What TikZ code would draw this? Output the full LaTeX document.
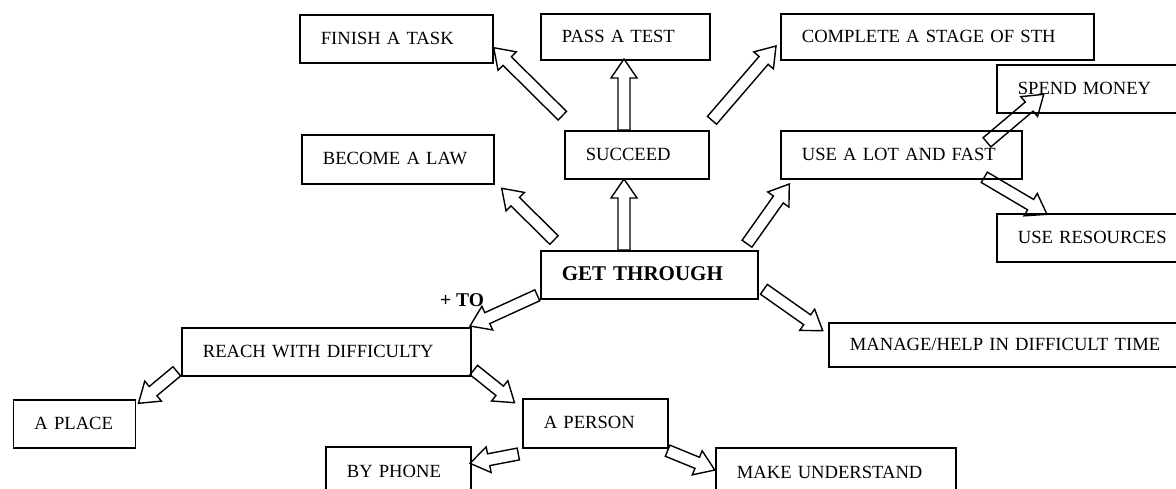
\documentclass[tikz,border=0pt]{standalone}
\usepackage{fontspec}
\setmainfont{Liberation Serif}
\usetikzlibrary{calc,backgrounds}
\newcommand{\arrSW}{6pt}
\newcommand{\arrHW}{13pt}
\newcommand{\arrHL}{19pt}
\newcommand{\blockarr}[2]{%
  \coordinate (bac) at ($(#2)!\arrHL!(#1)$);
  \draw[blockarrow] ($(#1)!\arrSW!90:(#2)$) -- ($(bac)!\arrSW!90:(#2)$) -- ($(bac)!\arrHW!90:(#2)$) -- (#2) -- ($(bac)!\arrHW!-90:(#2)$) -- ($(bac)!\arrSW!-90:(#2)$) -- ($(#1)!\arrSW!-90:(#2)$) -- cycle;}
\begin{document}
\begin{tikzpicture}[x=1pt,y=-1pt,
  box/.style={draw, line width=1.7pt, inner xsep=21pt, inner ysep=0pt, align=left, anchor=north west,
    font=\fontsize{18.6}{22}\selectfont, text height=12.3pt, text depth=2pt},
  bigbox/.style={box, font=\fontsize{21}{25}\selectfont\bfseries, text height=14.2pt},
  blockarrow/.style={draw, fill=white, line width=1.4pt, line join=miter},
  tolabel/.style={anchor=base west, inner sep=0pt, font=\fontsize{19.5}{23}\selectfont\bfseries}]
\useasboundingbox (0,0) rectangle (1176,488);
\clip (0,0) rectangle (1176,488);
% boxes
\node[box, text width=151pt, minimum height=48pt] (finish) at (299,14) {FINISH A TASK};
\node[box, text width=127pt, minimum height=46pt] (pass) at (540,13) {PASS A TEST};
\node[box, text width=271pt, minimum height=46pt] (complete) at (780,13) {COMPLETE A STAGE OF STH};
\node[box, text width=150pt, minimum height=49pt] (become) at (301,134) {BECOME A LAW};
\node[box, text width=102pt, minimum height=48pt] (succeed) at (564,130) {SUCCEED};
\node[box, text width=199pt, minimum height=48pt] (uselot) at (780,130) {USE A LOT AND FAST};
\node[box, text width=178pt, minimum height=48pt] (spend) at (996,64) {SPEND MONEY};
\node[box, text width=178pt, minimum height=48pt] (useres) at (996,213) {USE RESOURCES};
\node[bigbox, text width=175pt, minimum height=48pt] (gt) at (540,250) {GET THROUGH};
\node[box, text width=338pt, minimum height=44pt] (manage) at (828,322) {MANAGE/HELP IN DIFFICULT TIME};
\node[box, text width=247pt, minimum height=48pt] (reach) at (181,327) {REACH WITH DIFFICULTY};
\node[box, text width=80pt, minimum height=48pt] (place) at (12.6,399) {A PLACE};
\node[box, text width=103pt, minimum height=49pt] (person) at (522,398) {A PERSON};
\node[box, text width=103pt, minimum height=50pt] (phone) at (325,446) {BY PHONE};
\node[box, text width=198pt, minimum height=50pt] (make) at (715,447) {MAKE UNDERSTAND};
\node[tolabel] (to) at (440,306) {+ TO};
% arrow end points
\coordinate (s1) at (562.3,115.7); \coordinate (e1) at (493.7,47.7);
\coordinate (s2) at (624,130);     \coordinate (e2) at (624,59);
\coordinate (s3) at (712,120.3);   \coordinate (e3) at (776,46);
\coordinate (s4) at (554,240);     \coordinate (e4) at (501.7,188.3);
\coordinate (s5) at (624,250);     \coordinate (e5) at (624,179);
\coordinate (s6) at (747,243.7);   \coordinate (e6) at (789.3,184);
\coordinate (s7) at (987,142.3);   \coordinate (e7) at (1043.7,94.3);
\coordinate (s8) at (984.3,177.3); \coordinate (e8) at (1047,214.3);
\coordinate (s9) at (537.3,295.3); \coordinate (e9) at (470,326);
\coordinate (s10) at (763.9,289.3); \coordinate (e10) at (822.7,330.7);
\coordinate (s11) at (176.8,371.3); \coordinate (e11) at (138.5,403.3);
\coordinate (s12) at (473.8,370);  \coordinate (e12) at (514.5,402.7);
\coordinate (s13) at (518.3,454);  \coordinate (e13) at (470,463.3);
\coordinate (s14) at (667.6,450.7); \coordinate (e14) at (714.8,470);
\begin{scope}[on background layer]
\fill[white] (0,0) rectangle (1176,488);
\blockarr{s1}{e1}
\blockarr{s2}{e2}
\blockarr{s3}{e3}
\blockarr{s4}{e4}
\blockarr{s5}{e5}
\blockarr{s6}{e6}
\blockarr{s7}{e7}
\blockarr{s8}{e8}
\blockarr{s9}{e9}
\blockarr{s10}{e10}
\blockarr{s11}{e11}
\blockarr{s12}{e12}
\blockarr{s13}{e13}
\blockarr{s14}{e14}
\end{scope}
\end{tikzpicture}
\end{document}
